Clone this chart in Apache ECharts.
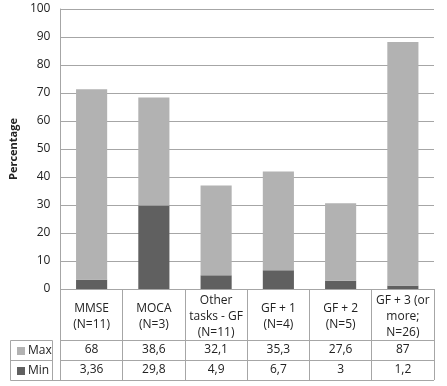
<!DOCTYPE html>
<html>
<head>
<meta charset="utf-8">
<script src="https://cdn.jsdelivr.net/npm/echarts@6/dist/echarts.min.js"></script>
<style>
  html, body { margin: 0; padding: 0; background: #fff; }
  #chart { width: 447px; height: 386px; }
</style>
</head>
<body>
<div id="chart"></div>
<script>
const CATEGORIES = [
  "MMSE\n(N=11)",
  "MOCA\n(N=3)",
  "Other\ntasks - GF\n(N=11)",
  "GF + 1\n(N=4)",
  "GF + 2\n(N=5)",
  "GF + 3 (or\nmore;\nN=26)",
];
const MAX_VALUES = [68, 38.6, 32.1, 35.3, 27.6, 87];
const MIN_VALUES = [3.36, 29.8, 4.9, 6.7, 3, 1.2];
const Y_TICKS = { min: 0, max: 100, interval: 10 };

const LIGHT = "#b2b2b2";
const DARK = "#606060";
const RULE = "#a6a6a6";
const TEXT = "#222";
const FONT = '"Open Sans", "DejaVu Sans", sans-serif';

// Table cells use the decimal comma of the original.
const fmt = (v) => String(v).replace(".", ",");

const chart = echarts.init(document.getElementById("chart"), null, { renderer: "canvas" });

const tableAxis = (values, offset) => ({
  type: "category",
  position: "bottom",
  offset,
  data: CATEGORIES,
  axisLine: { show: true, lineStyle: { color: RULE } },
  axisTick: { show: false },
  axisLabel: {
    interval: 0,
    margin: 10,
    verticalAlign: "middle",
    color: TEXT,
    fontFamily: FONT,
    fontSize: 12,
    formatter: (v, i) => fmt(values[i]),
  },
});

chart.setOption({
  animation: false,
  textStyle: { fontFamily: FONT },
  grid: { left: 52, right: 13, top: 9, bottom: 97 },
  legend: {
    orient: "vertical",
    left: 12,
    top: 340,
    itemGap: 8,
    itemWidth: 8,
    itemHeight: 8,
    icon: "rect",
    data: ["Max", "Min"],
    textStyle: { color: TEXT, fontSize: 12, lineHeight: 12, padding: [0, 0, 0, -2] },
    selectedMode: false,
  },
  xAxis: [
    {
      type: "category",
      position: "bottom",
      data: CATEGORIES,
      axisLine: { show: true, lineStyle: { color: RULE } },
      axisTick: { show: true, length: 91, lineStyle: { color: RULE } },
      axisLabel: {
        interval: 0,
        margin: 28,
        verticalAlign: "middle",
        color: TEXT,
        fontSize: 12,
        lineHeight: 16,
      },
    },
    tableAxis(MAX_VALUES, 51),
    tableAxis(MIN_VALUES, 71),
  ],
  yAxis: {
    type: "value",
    ...Y_TICKS,
    name: "Percentage",
    nameLocation: "middle",
    nameGap: 38,
    nameTextStyle: { color: TEXT, fontSize: 11, fontWeight: "bold" },
    axisLine: { show: true, lineStyle: { color: RULE } },
    axisTick: { show: false },
    axisLabel: { color: TEXT, fontSize: 12, margin: 10 },
    splitLine: { lineStyle: { color: RULE } },
  },
  series: [
    {
      name: "Min",
      type: "bar",
      stack: "total",
      barWidth: "50%",
      data: MIN_VALUES,
      itemStyle: { color: DARK },
    },
    {
      name: "Max",
      type: "bar",
      stack: "total",
      barWidth: "50%",
      data: MAX_VALUES,
      itemStyle: { color: LIGHT },
    },
  ],
  // Left-hand legend cells and bottom border of the data table.
  graphic: [
    { type: "rect", shape: { x: 10.5, y: 340.5, width: 42, height: 40 }, style: { fill: null, stroke: RULE, lineWidth: 1 } },
    { type: "line", shape: { x1: 10, y1: 360.5, x2: 52, y2: 360.5 }, style: { stroke: RULE, lineWidth: 1 } },
    { type: "line", shape: { x1: 52, y1: 380.5, x2: 434, y2: 380.5 }, style: { stroke: RULE, lineWidth: 1 } },
  ],
});
</script>
</body>
</html>
